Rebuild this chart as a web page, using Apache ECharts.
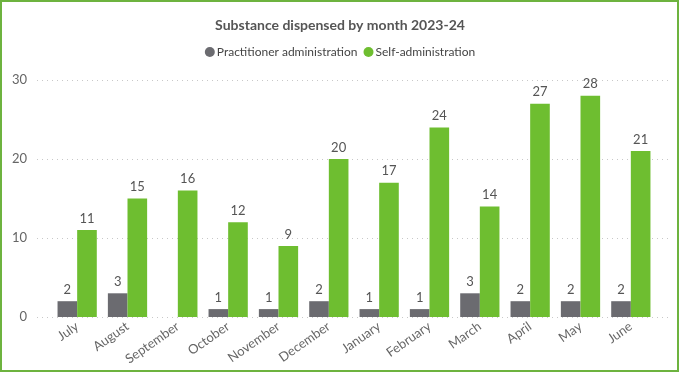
<!DOCTYPE html>
<html><head><meta charset="utf-8">
<script src="https://cdn.jsdelivr.net/npm/echarts@6/dist/echarts.min.js"></script>
<style>html,body{margin:0;padding:0;background:#fff}#c{width:680px;height:373px}</style>
</head><body><div id="c"></div>
<script>
const categories = ['July','August','September','October','November','December','January','February','March','April','May','June'];
const practitioner = [2,3,null,1,1,2,1,1,3,2,2,2];
const selfAdmin = [11,15,16,12,9,20,17,24,14,27,28,21];
const yTicks = [0,10,20,30];

const chart = echarts.init(document.getElementById('c'), null, {renderer:'canvas'});
const font = 'Segoe UI, Lato, "DejaVu Sans", sans-serif';
chart.setOption({
  animation:false,
  title:{text:'Substance dispensed by month 2023-24', left:'center', top:13,
    textStyle:{fontFamily:font, fontSize:14, fontWeight:'bold', color:'#555'}},
  legend:{top:41, left:'center', itemWidth:10, itemHeight:10, itemGap:6, icon:'circle',
    textStyle:{fontFamily:font, fontSize:12, color:'#444', padding:[0,0,0,-3]},
    data:['Practitioner administration','Self-administration']},
  graphic:[{type:'rect', shape:{x:1,y:1,width:677,height:370}, style:{fill:null, stroke:'#6db33f', lineWidth:2}, silent:true, z:100}],
  grid:[{left:52, right:24, top:80, bottom:56},{left:37, right:10, top:80, bottom:56}],
  xAxis:[{type:'category', data:categories, gridIndex:0,
    axisLine:{show:false}, axisTick:{show:false},
    axisLabel:{rotate:35, interval:0, fontFamily:font, fontSize:13, color:'#666', margin:8}},
    {type:'value', gridIndex:1, show:false, min:0, max:1}],
  yAxis:[{type:'value', gridIndex:0, min:0, max:30, interval:10, show:false, splitLine:{show:false}},
    {type:'value', gridIndex:1, min:yTicks[0], max:yTicks[yTicks.length-1], interval:10,
    axisLine:{show:false}, axisTick:{show:false},
    axisLabel:{fontFamily:font, fontSize:13, color:'#666', margin:10},
    splitLine:{show:true, lineStyle:{color:'#c8c8c8', type:[1,4], width:1}}}],
  series:[
    {name:'Practitioner administration', type:'bar', data:practitioner, barGap:'0%', barCategoryGap:'22%',
      itemStyle:{color:'#6b6b70'},
      label:{show:true, position:'top', distance:5, fontFamily:font, fontSize:13, color:'#555'}},
    {name:'Self-administration', type:'bar', data:selfAdmin, barGap:'0%', barCategoryGap:'22%',
      itemStyle:{color:'#6ebe30'},
      label:{show:true, position:'top', distance:5, fontFamily:font, fontSize:13, color:'#555'}}
  ]
});
</script></body></html>
